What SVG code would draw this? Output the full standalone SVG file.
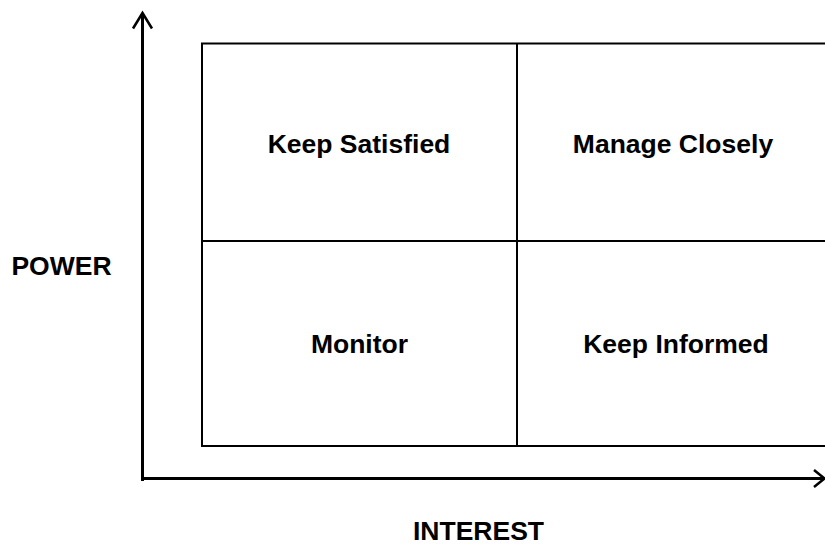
<svg xmlns="http://www.w3.org/2000/svg" width="825" height="546" viewBox="0 0 825 546">
  <style>
    .axis { stroke: #000; stroke-width: 3; fill: none; }
    .head { stroke: #000; stroke-width: 2.5; fill: none; stroke-linecap: butt; stroke-linejoin: miter; }
    .grid { stroke: #000; stroke-width: 2; fill: none; }
    .lbl { font-family: "Liberation Sans", Arial, sans-serif; font-weight: bold; font-size: 26.5px; fill: #000; text-anchor: middle; }
  </style>
  <rect width="825" height="546" fill="#fff"/>

  <!-- axes -->
  <g id="axes">
    <line class="axis" x1="142.5" y1="13" x2="142.5" y2="481"/>
    <polyline class="head" points="133,28.5 142.5,13 152,28.5"/>
    <line class="axis" x1="144" y1="478.5" x2="824" y2="478.5"/>
    <polyline class="head" points="814,470 824.5,478.5 814,487"/>
  </g>

  <!-- 2x2 grid -->
  <g id="grid">
    <rect class="grid" x="202" y="43.5" width="630" height="402.5"/>
    <line class="grid" x1="517" y1="43.5" x2="517" y2="446"/>
    <line class="grid" x1="202" y1="241" x2="832" y2="241"/>
  </g>

  <g id="keep-satisfied"><text class="lbl" x="359" y="153">Keep Satisfied</text></g>
  <g id="manage-closely"><text class="lbl" x="673" y="153">Manage Closely</text></g>
  <g id="monitor"><text class="lbl" x="359.5" y="353">Monitor</text></g>
  <g id="keep-informed"><text class="lbl" x="676" y="353">Keep Informed</text></g>

  <g id="power"><text class="lbl" x="61.5" y="275">POWER</text></g>
  <g id="interest"><text class="lbl" x="478.5" y="540">INTEREST</text></g>
</svg>
